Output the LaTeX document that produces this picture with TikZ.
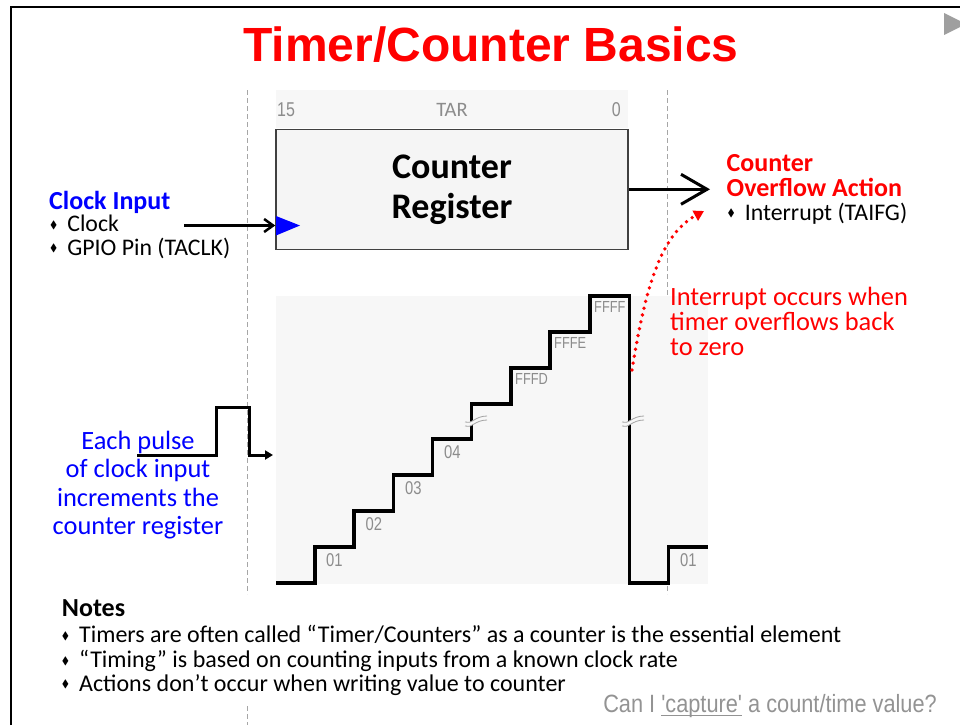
\documentclass[tikz,border=0pt]{standalone}
\usepackage{fontspec}
\usepackage{amssymb}
\usepackage{graphicx}
\usetikzlibrary{arrows.meta,positioning}
\setmainfont{Carlito}
\newfontfamily\arialf{Liberation Sans}

\definecolor{slidered}{RGB}{255,0,0}
\definecolor{slideblue}{RGB}{0,0,255}
\definecolor{lblgray}{RGB}{140,140,140}
\definecolor{boxgray}{RGB}{245,245,245}
\definecolor{panelgray}{RGB}{247,247,247}
\definecolor{edgegray}{RGB}{64,64,64}

\newcommand{\dia}{\raisebox{0.28ex}{\scalebox{0.45}{$\blacklozenge$}}\hspace{0.42em}}
\newcommand{\narrow}[1]{\scalebox{0.8}[1]{#1}}

\begin{document}
\begin{tikzpicture}[x=1pt, y=-1pt,
    txt/.style={anchor=base west, inner sep=0pt},
    ctxt/.style={anchor=base, inner sep=0pt},
    headfont/.style={font=\fontsize{26}{26}\selectfont\bfseries},
    itemfont/.style={font=\fontsize{23.8}{23.8}\selectfont},
    notefont/.style={font=\fontsize{24}{24}\selectfont},
    bigfont/.style={font=\fontsize{26.4}{26.4}\selectfont},
    stepval/.style={txt, text=lblgray, font=\arialf\fontsize{18.5}{18.5}\selectfont},
    hexval/.style={txt, text=lblgray, font=\arialf\fontsize{16}{16}\selectfont},
    guide/.style={gray!70, line width=1pt, dash pattern=on 5pt off 3pt},
    wave/.style={line width=3.5pt, line join=miter},
    regbox/.style={draw=edgegray, fill=boxgray, line width=1.5pt,
        minimum width=352pt, minimum height=120pt, inner sep=0pt, align=center,
        font=\fontsize{36}{40}\selectfont\bfseries}]
    \useasboundingbox (0,0) rectangle (960,725);
    % Slide frame
    \draw[line width=2.5pt] (11,725) -- (11,7) -- (960,7);
    \fill[gray!75] (944,13) -- (966,24) -- (944,35) -- cycle;
    % Title
    \node[ctxt, text=slidered, font=\arialf\fontsize{48}{48}\selectfont\bfseries]
        (title) at (491,61) {Timer/Counter Basics};
    % Guide lines
    \draw[guide] (247,90) -- (247,594);
    \draw[guide] (247,706) -- (247,725);
    \draw[guide] (667,90) -- (667,594);
    % Register
    \fill[panelgray] (276,90) rectangle (628,128);
    \node[txt, text=lblgray, font=\arialf\fontsize{20}{20}\selectfont] (bit15) at (277,116) {\narrow{15}};
    \node[ctxt, text=lblgray, font=\fontsize{20.5}{20.5}\selectfont] (tarname) at (452,116) {TAR};
    \node[anchor=base east, inner sep=0pt, text=lblgray, font=\arialf\fontsize{20}{20}\selectfont] (bit0) at (621,116) {\narrow{0}};
    \node[regbox] (cnt) at (452,189.3) {Counter\\Register};
    \fill[slideblue] (276,216) -- (300,225.5) -- (276,235.5) -- cycle;
    % Clock input
    \node[txt, headfont, text=slideblue] (clkhead) at (49,209) {Clock Input};
    \node[txt, itemfont] (clkitem1) at (50,231.5) {\dia Clock};
    \node[txt, itemfont] (clkitem2) at (50,255) {\dia GPIO Pin (TACLK)};
    \coordinate (clkfrom) at (184,225.5);
    \draw[line width=2.5pt, -{Straight Barb[length=9pt,width=13pt]}] (clkfrom) -- (clkfrom -| cnt.west);
    % Overflow action
    \node[txt, headfont, text=slidered] (ovfhead1) at (726.5,171.5) {Counter};
    \node[txt, headfont, text=slidered] (ovfhead2) at (726.5,196.5) {Overflow Action};
    \node[txt, itemfont] (ovfitem) at (727.5,220) {\dia Interrupt (TAIFG)};
    \coordinate (ovfto) at (710,189.3);
    \draw[line width=3pt, -{Straight Barb[length=26pt,width=30pt]}] (cnt.east) -- (ovfto);
    % Count plot
    \fill[panelgray] (276,296) rectangle (708,584);
    \draw[wave] (276,583) -| (315,547) -| (354,511) -| (393.5,475) -| (432.7,439)
        -| (471.7,404) -| (511,368) -| (550,332) -| (590,296) -| (629.3,583)
        -| (668.3,547) -- (708,547);
    % Break marks
    \fill[panelgray] (465,422) .. controls (471,425) and (475,416) .. (487,416)
        -- (487,420) .. controls (475,420) and (471,429) .. (465,426) -- cycle;
    \draw[lblgray!80, line width=0.8pt] (465,422) .. controls (471,425) and (475,416) .. (487,416);
    \draw[lblgray!80, line width=0.8pt] (465,426) .. controls (471,429) and (475,420) .. (487,420);
    \fill[panelgray] (622,422) .. controls (628,425) and (632,416) .. (644,416)
        -- (644,420) .. controls (632,420) and (628,429) .. (622,426) -- cycle;
    \draw[lblgray!80, line width=0.8pt] (622,422) .. controls (628,425) and (632,416) .. (644,416);
    \draw[lblgray!80, line width=0.8pt] (622,426) .. controls (628,429) and (632,420) .. (644,420);
    % Count values
    \node[stepval] (v01) at (326,566) {\narrow{01}};
    \node[stepval] (v02) at (365.5,530) {\narrow{02}};
    \node[stepval] (v03) at (405,494) {\narrow{03}};
    \node[stepval] (v04) at (444,458) {\narrow{04}};
    \node[hexval] (vfffd) at (515,384) {\narrow{FFFD}};
    \node[hexval] (vfffe) at (554,348) {\narrow{FFFE}};
    \node[hexval] (vffff) at (594,312) {\narrow{FFFF}};
    \node[stepval] (v01b) at (680,566) {\narrow{01}};
    % Interrupt note
    \coordinate (irqfrom) at (632,370);
    \coordinate (irqto) at (704,211);
    \draw[slidered, line width=3.8pt, line cap=round, dash pattern=on 0pt off 7pt,
        -{Triangle[length=10pt,width=11pt]}]
        (irqfrom) .. controls (645,290) and (660,235) .. (irqto);
    \node[txt, bigfont, text=slidered] (irq1) at (670,305.5) {Interrupt occurs when};
    \node[txt, bigfont, text=slidered] (irq2) at (670,330.5) {timer overflows back};
    \node[txt, bigfont, text=slidered] (irq3) at (670,355.5) {to zero};
    % Clock pulse
    \coordinate (pulse0) at (137,455);
    \draw[line width=3pt, -{Triangle[length=8pt,width=9pt]}] (pulse0) -- ++(79,0) -- ++(0,-48)
        -- ++(33,0) -- ++(0,48) -- ++(24,0);
    \node[ctxt, bigfont, text=slideblue] (pulse1) at (138,449) {Each pulse};
    \node[ctxt, bigfont, text=slideblue] (pulse2) at (138,477) {of clock input};
    \node[ctxt, bigfont, text=slideblue] (pulse3) at (138,506) {increments the};
    \node[ctxt, bigfont, text=slideblue] (pulse4) at (138,534) {counter register};
    % Notes
    \node[txt, headfont] (notes) at (61.7,616.7) {Notes};
    \node[txt, notefont] (note1) at (61.7,642.7) {\dia Timers are often called “Timer/Counters” as a counter is the essential element};
    \node[txt, notefont] (note2) at (61.7,667.3) {\dia “Timing” is based on counting inputs from a known clock rate};
    \node[txt, notefont] (note3) at (61.7,691) {\dia Actions don’t occur when writing value to counter};
    \node[anchor=base east, inner sep=0pt, text=gray!85, font=\arialf\fontsize{25}{25}\selectfont]
        (capq) at (937,712) {\scalebox{0.87}[1]{Can I \underline{\smash{'capture'}} a count/time value?}};
\end{tikzpicture}
\end{document}
